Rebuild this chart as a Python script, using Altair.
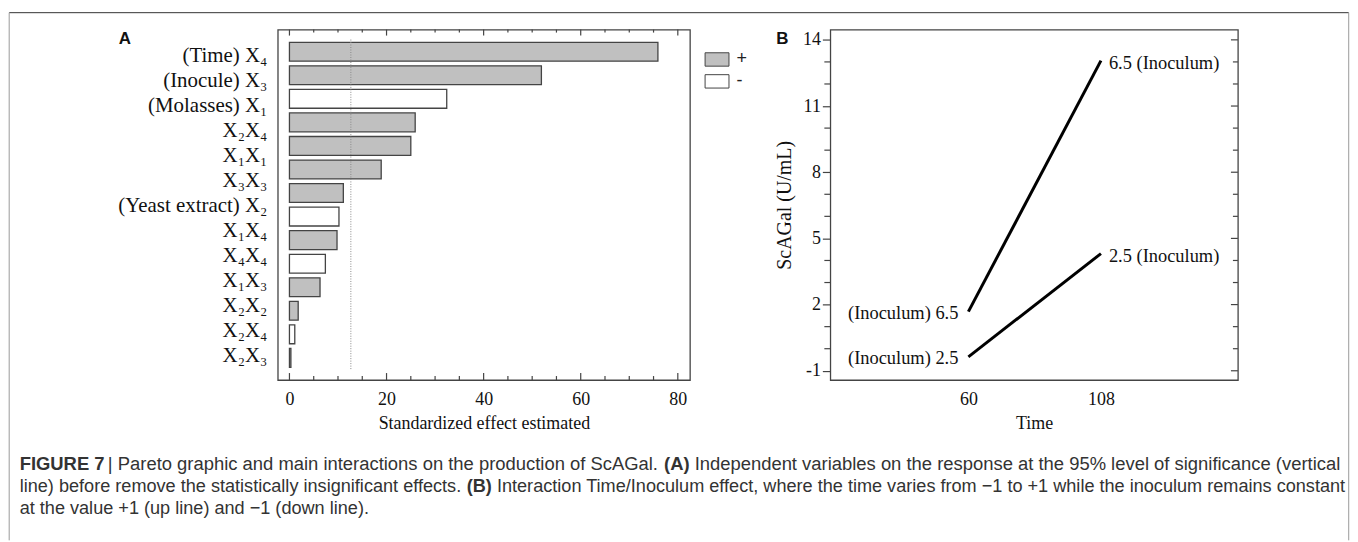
import json
import altair as alt
import pandas as pd

# ---------------- Panel A data (Pareto chart) ----------------
terms = ["(Time) X₄", "(Inocule) X₃", "(Molasses) X₁", "X₂X₄", "X₁X₁", "X₃X₃",
         "(Yeast extract) X₂", "X₁X₄", "X₄X₄", "X₁X₃", "X₂X₂", "X₂X₄", "X₂X₃"]
bar_effects = [75.9, 51.9, 32.4, 25.9, 25.0, 18.9, 11.1, 10.2, 9.8, 7.4, 6.3, 1.8, 1.1, 0.3]
bar_signs = ["+", "+", "-", "+", "+", "+", "+", "-", "+", "-", "+", "+", "-", "+"]
sign_levels = ["+", "-"]
critical_value = 12.65
x_major_ticks = [0, 20, 40, 60, 80]
x_minor_ticks = [5, 10, 15, 25, 30, 35, 45, 50, 55, 65, 70, 75]

# ---------------- Panel B data (interaction plot) ----------------
time_levels = [60, 108]
inoculum_names = ["2.5", "6.5"]
activity_low_inoc = [-0.37, 4.31]
activity_high_inoc = [1.68, 13.06]
y_major_ticks = [-1, 2, 5, 8, 11, 14]
y_minor_ticks = [0, 1, 3, 4, 6, 7, 9, 10, 12, 13]

caption_lines = [
    [("FIGURE 7", True), ("| Pareto graphic and main interactions on the production of ScAGal.", False),
     ("(A)", True), ("Independent variables on the response at the 95% level of significance (vertical", False)],
    [("line) before remove the statistically insignificant effects.", False), ("(B)", True),
     ("Interaction Time/Inoculum effect, where the time varies from −1 to +1 while the inoculum remains constant", False)],
    [("at the value +1 (up line) and −1 (down line).", False)],
]

# ---------------- layout constants ----------------
SERIF = "Liberation Serif"
SANS = "Liberation Sans"
WA, HA = 414, 352
WB, HB = 409.4, 352
OXA, OYA = 278.3, 29.0      # page position of panel A plot origin
OXB = 833.3                 # page x of panel B plot origin
FRAME = "#444444"
caption_fs = [18.5, 18.2, 18.2]
caption_x = [[19, 107.6, 666.3, 697.0], [19, 468.1, 498.4], [19]]
caption_y = [465, 488, 511]


def one_row():
    return pd.DataFrame({"k": [0]})


def page_text(txt, px, py, size, weight="normal", font=SANS, color="#333333", align="left"):
    return alt.Chart(one_row()).mark_text(
        text=txt, font=font, fontSize=size, fontWeight=weight, color=color,
        align=align, baseline="middle"
    ).encode(x=alt.value(px - OXA), y=alt.value(py - OYA))


def page_rule(x1, y1, x2, y2, color, width=1.0):
    return alt.Chart(one_row()).mark_rule(color=color, strokeWidth=width).encode(
        x=alt.value(x1 - OXA), x2=alt.value(x2 - OXA),
        y=alt.value(y1 - OYA), y2=alt.value(y2 - OYA))


# ---------------- Panel A ----------------
bars_df = pd.DataFrame({"rank": list(range(len(bar_effects))),
                        "effect": bar_effects, "sign": bar_signs})
labels_df = pd.DataFrame({"pos": list(range(len(terms))), "term": terms})
term_expr = json.dumps(terms, ensure_ascii=False) + "[datum.value]"
xA = alt.Scale(domain=[-2.4, 82.5], nice=False, zero=False)

label_layer = alt.Chart(labels_df).mark_point(opacity=0).encode(
    y=alt.Y("pos:O", scale=alt.Scale(type="point", padding=1.0),
            axis=alt.Axis(title=None, ticks=False, domain=False, grid=False, labelExpr=term_expr,
                          labelFont=SERIF, labelFontSize=21, labelColor="#111111",
                          labelPadding=11, labelLimit=400, labelOffset=1)),
    x=alt.value(0),
)

bar_layer = alt.Chart(bars_df).mark_bar(stroke=FRAME, strokeWidth=1.3).encode(
    x=alt.X("effect:Q", scale=xA,
            axis=alt.Axis(values=x_major_ticks, ticks=False, domain=False, grid=False,
                          labelFont=SERIF, labelFontSize=18, labelPadding=11, labelColor="#111111",
                          title="Standardized effect estimated", titleFont=SERIF, titleFontSize=18,
                          titleFontWeight="normal", titleColor="#111111", titlePadding=6)),
    y=alt.Y("rank:O", scale=alt.Scale(paddingInner=0.2, paddingOuter=0.54), axis=None),
    color=alt.Color("sign:N", scale=alt.Scale(domain=sign_levels, range=["#c0c0c0", "#ffffff"]),
                    legend=alt.Legend(title=None, orient="none", legendX=707 - OXA, legendY=46.5 - OYA,
                                      symbolType="M-1,-0.56H1V0.56H-1Z", symbolSize=576,
                                      symbolStrokeColor=FRAME, symbolStrokeWidth=1,
                                      labelFont=SANS, labelFontSize=18, labelColor="#222222",
                                      labelOffset=7, rowPadding=0, padding=0)),
)

crit_layer = alt.Chart(pd.DataFrame({"crit": [critical_value]})).mark_rule(
    color="#888888", strokeWidth=1, strokeDash=[1, 1.5]
).encode(x=alt.X("crit:Q", scale=xA, axis=None), y=alt.value(10), y2=alt.value(342))


def xtick_rules(values, y0, y1):
    return alt.Chart(pd.DataFrame({"v": values})).mark_rule(color=FRAME, strokeWidth=1.2).encode(
        x=alt.X("v:Q", scale=xA, axis=None), y=alt.value(y0), y2=alt.value(y1))


panel_a_layers = [
    label_layer, bar_layer, crit_layer,
    xtick_rules(x_major_ticks, HA, HA - 7), xtick_rules(x_minor_ticks, HA, HA - 4),
    xtick_rules(x_major_ticks, 0, 6), xtick_rules(x_minor_ticks, 0, 3),
    page_text("A", 124.8, 38, 17, weight="bold", color="#111111", align="center"),
    # figure frame
    page_rule(8.5, 12, 1354, 12, "#333333"),
    page_rule(8.5, 12, 8.5, 542, "#9a9a9a"),
    page_rule(1354, 12, 1354, 542, "#9a9a9a"),
]
for line, xs, py, fs in zip(caption_lines, caption_x, caption_y, caption_fs):
    for (txt, bold), px in zip(line, xs):
        panel_a_layers.append(page_text(txt, px, py, fs, weight="bold" if bold else "normal"))

panel_a = alt.layer(*panel_a_layers).resolve_scale(y="independent").resolve_axis(
    x="independent", y="independent").properties(width=WA, height=HA)

# ---------------- Panel B ----------------
lines_df = pd.DataFrame({
    "time": time_levels * 2,
    "activity": activity_low_inoc + activity_high_inoc,
    "inoculum": [inoculum_names[0]] * 2 + [inoculum_names[1]] * 2,
})
end_df = pd.DataFrame({
    "time": [time_levels[1]] * 2,
    "activity": [activity_high_inoc[1], activity_low_inoc[1]],
    "label": [f"{inoculum_names[1]} (Inoculum)", f"{inoculum_names[0]} (Inoculum)"],
})
start_df = pd.DataFrame({
    "time": [time_levels[0]] * 2,
    "activity": [activity_high_inoc[0], activity_low_inoc[0]],
    "label": [f"(Inoculum) {inoculum_names[1]}", f"(Inoculum) {inoculum_names[0]}"],
})

xB = alt.Scale(domain=[10, 157.6], nice=False, zero=False)
yB = alt.Scale(domain=[-1.42, 14.465], nice=False, zero=False)

line_layer = alt.Chart(lines_df).mark_line(color="black", strokeWidth=3).encode(
    x=alt.X("time:Q", scale=xB,
            axis=alt.Axis(values=time_levels, ticks=False, domain=False, grid=False,
                          labelFont=SERIF, labelFontSize=18, labelPadding=11, labelColor="#111111",
                          title="Time", titleFont=SERIF, titleFontSize=18, titleFontWeight="normal",
                          titleColor="#111111", titlePadding=6)),
    y=alt.Y("activity:Q", scale=yB,
            axis=alt.Axis(values=y_major_ticks, ticks=True, tickSize=8, tickColor=FRAME, tickWidth=1.2,
                          domain=False, grid=False, labelFont=SERIF, labelFontSize=18, labelPadding=2,
                          labelColor="#111111",
                          labelExpr="(datum.value < 0 ? '-' : '') + abs(datum.value)",
                          title="ScAGal (U/mL)", titleFont=SERIF, titleFontSize=20,
                          titleFontWeight="normal", titleColor="#111111", titlePadding=8)),
    detail="inoculum:N",
)

end_text = alt.Chart(end_df).mark_text(align="left", baseline="middle", dx=8, dy=2,
                                       font=SERIF, fontSize=18.5, color="#111111").encode(
    x=alt.X("time:Q", scale=xB, axis=None), y=alt.Y("activity:Q", scale=yB, axis=None), text="label:N")
start_text = alt.Chart(start_df).mark_text(align="right", baseline="middle", dx=-10, dy=1,
                                           font=SERIF, fontSize=18.5, color="#111111").encode(
    x=alt.X("time:Q", scale=xB, axis=None), y=alt.Y("activity:Q", scale=yB, axis=None), text="label:N")


def ytick_rules(values, x0, x1):
    return alt.Chart(pd.DataFrame({"v": values})).mark_rule(color=FRAME, strokeWidth=1.2).encode(
        y=alt.Y("v:Q", scale=yB, axis=None), x=alt.value(x0), x2=alt.value(x1))


b_letter = alt.Chart(one_row()).mark_text(text="B", font=SANS, fontSize=17, fontWeight="bold",
                                          color="#111111", align="center", baseline="middle").encode(
    x=alt.value(785 - OXB), y=alt.value(38 - OYA))

panel_b = alt.layer(
    line_layer, end_text, start_text,
    ytick_rules(y_minor_ticks, 0, -6),
    ytick_rules(y_major_ticks, WB, WB - 7), ytick_rules(y_minor_ticks, WB, WB - 5),
    b_letter,
).resolve_axis(x="independent", y="independent").properties(width=WB, height=HB)

chart = alt.hconcat(
    panel_a, panel_b, spacing=141, bounds="flush",
    padding={"left": 0, "top": 1.5, "right": 0, "bottom": 0},
).configure_view(stroke=FRAME, strokeWidth=1.3)

chart.save("out.html", embed_options={"renderer": "svg", "actions": False})
